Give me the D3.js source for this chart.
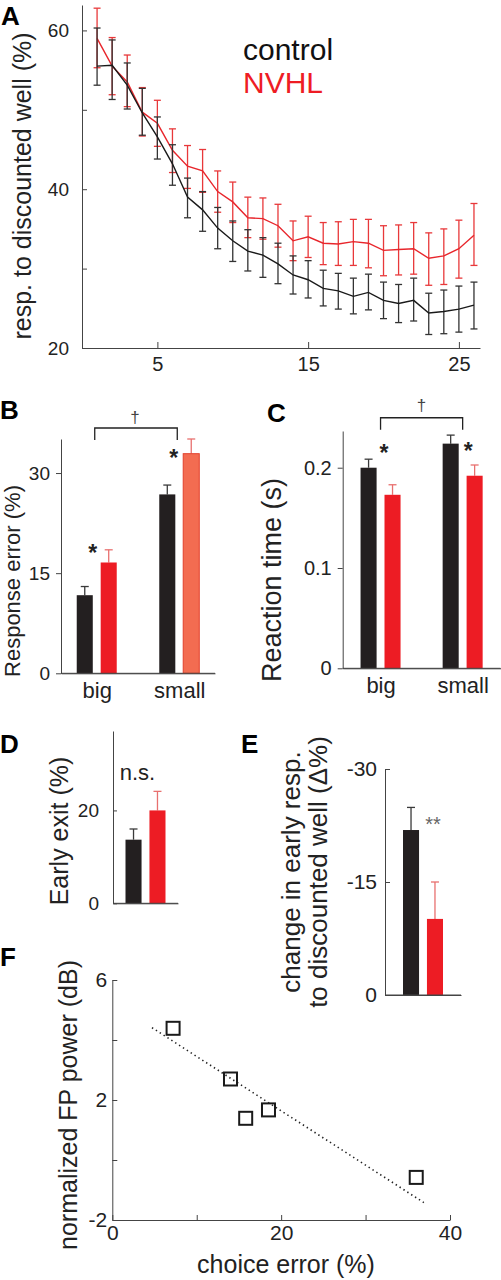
<!DOCTYPE html>
<html><head><meta charset="utf-8">
<script src="https://cdn.jsdelivr.net/npm/d3@7"></script>
<style>
body{margin:0;background:#fff}
svg text{font-family:"Liberation Sans",Arial,Helvetica,sans-serif}
</style>
</head><body>
<svg id="c" width="501" height="1280"></svg>
<script>
// ---------------- DATA ----------------
// Panel A
const trials = [1,2,3,4,5,6,7,8,9,10,11,12,13,14,15,16,17,18,19,20,21,22,23,24,25,26];
const ctrlMean = [55.5,55.6,53.1,49.6,46.6,43.2,39.0,37.4,35.1,33.5,32.2,31.7,30.6,29.2,28.6,27.5,27.2,26.5,27.0,26.0,25.6,26.0,24.4,24.6,24.9,25.4];
const ctrlHi   = [60.3,58.8,55.9,52.7,49.1,45.6,41.4,39.7,37.7,36.0,34.9,33.9,33.2,31.6,31.0,29.8,29.4,28.8,29.3,28.3,28.0,28.8,26.9,27.3,27.8,28.3];
const ctrlLo   = [53.1,51.3,50.1,46.8,43.8,40.5,36.4,34.7,32.5,30.9,29.7,28.9,28.1,26.8,26.3,25.3,24.9,24.3,24.8,23.7,23.2,23.4,21.7,21.8,22.0,22.4];
const nvhlMean = [59.0,55.5,53.5,49.7,48.3,44.9,42.9,42.3,39.7,38.4,36.4,36.3,35.4,33.5,34.0,33.2,33.1,33.4,33.2,32.3,32.4,32.5,31.3,31.6,32.5,34.2];
const nvhlHi   = [62.8,59.1,56.9,52.8,51.2,47.6,45.5,45.0,42.3,40.9,39.0,38.9,38.1,36.0,36.6,35.8,35.9,36.2,36.2,35.4,35.5,35.8,34.5,35.0,36.1,38.2];
const nvhlLo   = [55.3,51.9,50.4,46.7,45.4,42.1,40.1,39.6,37.1,35.8,33.9,33.7,32.7,31.0,31.4,30.5,30.4,30.4,30.1,29.1,29.2,29.3,27.9,28.0,28.8,30.4];
const aXTicks = [5,15,25];
const aYTicks = [20,30,40,50,60];
const aYLabels = [20,40,60];
const seriesNames = ["control","NVHL"];

// Panel B
const bGroups = ["big","small"];
const bCtrl = [11.7,26.8], bCtrlErr = [1.3,1.4];
const bNvhl = [16.6,32.9], bNvhlErr = [1.9,2.2];
const bYTicks = [0,15,30];

// Panel C
const cGroups = ["big","small"];
const cCtrl = [0.200,0.224], cCtrlErr = [0.0085,0.0085];
const cNvhl = [0.173,0.192], cNvhlErr = [0.010,0.0107];
const cYTicks = [0,0.1,0.2];

// Panel D
const dGroups = ["all"];
const dCtrl = [13.7], dCtrlErr = [2.3];
const dNvhl = [20.0], dNvhlErr = [4.1];
const dYTicks = [0,20];

// Panel E
const eGroups = ["all"];
const eCtrl = [-21.9], eCtrlErr = [-3.0];
const eNvhl = [-10.1], eNvhlErr = [-4.9];
const eYTicks = [0,-15,-30];

// Panel F
const fX = [7.2,14.0,15.8,18.5,36.0];
const fY = [4.39,2.70,1.39,1.67,-0.58];
const fFitX = [4.7,36.9];
const fFitY = [4.41,-1.42];
const fXTicks = [0,10,20,30,40];
const fXLabels = [0,20,40];
const fYTicks = [-2,0,2,4,6];
const fYLabels = [-2,2,6];

// ---------------- STYLE ----------------
const BLACK = "#231f20", RED = "#ed1c24", SALMON = "#f36c51";
const AX = "#444";
const svg = d3.select("#c");
svg.append("rect").attr("width",501).attr("height",1280).attr("fill","#fff");

function styleAxis(g, fs){
  g.select(".domain").attr("stroke",AX).attr("stroke-width",1);
  g.selectAll(".tick line").attr("stroke",AX).attr("stroke-width",1);
  g.selectAll(".tick text").attr("fill","#222").attr("font-size",fs)
    .attr("font-family","'Liberation Sans',Arial,sans-serif");
}
function rotLabel(x, y, txt, fs){
  svg.append("text").attr("transform",`translate(${x},${y}) rotate(-90)`)
    .attr("text-anchor","middle").attr("font-size",fs).attr("fill","#222").text(txt);
}
function panelLetter(x,y,t){
  svg.append("text").attr("x",x).attr("y",y).attr("font-size",26).attr("font-weight","bold")
    .attr("fill","#000").text(t);
}

// ---------------- PANEL A ----------------
{
  const x = d3.scaleLinear().domain([0,26.4]).range([82,480]);
  const y = d3.scaleLinear().domain([20,63.2]).range([348,5]);
  const gy = svg.append("g").attr("transform","translate(82,0)")
    .call(d3.axisLeft(y).tickValues(aYTicks).tickFormat(d=>aYLabels.includes(d)?d:"")
      .tickSize(-5).tickPadding(13).tickSizeOuter(0));
  styleAxis(gy,19);
  const gx = svg.append("g").attr("transform","translate(0,348)")
    .call(d3.axisBottom(x).tickValues(aXTicks).tickSize(-6).tickPadding(9).tickSizeOuter(0));
  styleAxis(gx,20);

  const series = [
    {name:"NVHL", mean:nvhlMean, hi:nvhlHi, lo:nvhlLo, line:"#e8262c", err:"#e8383a"},
    {name:"control", mean:ctrlMean, hi:ctrlHi, lo:ctrlLo, line:"#1a1a1a", err:"#333"}
  ];
  series.forEach(s=>{
    const pts = trials.map((t,i)=>({t, m:s.mean[i], h:s.hi[i], l:s.lo[i]}));
    const g = svg.append("g");
    const eb = g.selectAll("g.eb").data(pts).join("g");
    eb.append("line").attr("x1",d=>x(d.t)).attr("x2",d=>x(d.t)).attr("y1",d=>y(d.h)).attr("y2",d=>y(d.l))
      .attr("stroke",s.err).attr("stroke-width",1.3);
    eb.append("line").attr("x1",d=>x(d.t)-3.5).attr("x2",d=>x(d.t)+3.5).attr("y1",d=>y(d.h)).attr("y2",d=>y(d.h))
      .attr("stroke",s.err).attr("stroke-width",1.3);
    eb.append("line").attr("x1",d=>x(d.t)-3.5).attr("x2",d=>x(d.t)+3.5).attr("y1",d=>y(d.l)).attr("y2",d=>y(d.l))
      .attr("stroke",s.err).attr("stroke-width",1.3);
    g.append("path").datum(pts).attr("fill","none").attr("stroke",s.line).attr("stroke-width",1.4)
      .attr("d",d3.line().x(d=>x(d.t)).y(d=>y(d.m)));
  });
  svg.append("text").attr("x",243).attr("y",60).attr("font-size",30).attr("fill","#111").text(seriesNames[0]);
  svg.append("text").attr("x",243).attr("y",93).attr("font-size",30).attr("fill","#ee1c24").text(seriesNames[1]);
  rotLabel(31,186,"resp. to discounted well (%)",25);
  panelLetter(1,25,"A");
}

// ---------------- BAR PANEL HELPER ----------------
function barPanel(cfg){
  const y = d3.scaleLinear().domain(cfg.yDomain).range(cfg.yRange);
  const xg = d3.scalePoint().domain(cfg.groups).range([cfg.x0,cfg.x1]).padding(cfg.pad);
  const xs = d3.scaleBand().domain(seriesNames).range([-20,20]).paddingInner(0.33);
  const base = cfg.yRange[0];
  const gy = svg.append("g").attr("transform",`translate(${cfg.x0},0)`)
    .call(d3.axisLeft(y).tickValues(cfg.yTicks).tickFormat(cfg.fmt||(d=>d))
      .tickSize(cfg.tick).tickPadding(cfg.tickPad).tickSizeOuter(0));
  styleAxis(gy,cfg.tfs);
  const gx = svg.append("g").attr("transform",`translate(0,${base})`)
    .call(d3.axisBottom(xg).tickSize(0).tickPadding(cfg.catPad).tickSizeOuter(0));
  styleAxis(gx,cfg.cfs);
  if(!cfg.showCats) gx.selectAll(".tick text").remove();
  const rows = [];
  cfg.groups.forEach((g,i)=>{
    rows.push({g, s:"control", v:cfg.ctrl[i], e:cfg.ctrlErr[i], fill:BLACK, stroke:"none", ec:"#3a3a3a"});
    rows.push({g, s:"NVHL", v:cfg.nvhl[i], e:cfg.nvhlErr[i],
      fill:(cfg.salmon&&cfg.salmon[i])?SALMON:RED, stroke:(cfg.salmon&&cfg.salmon[i])?"#e2402c":"none", ec:"#e8706f"});
  });
  const bx = d=>xg(d.g)+xs(d.s);
  const bars = svg.append("g").selectAll("g").data(rows).join("g");
  bars.append("line").attr("x1",d=>bx(d)+xs.bandwidth()/2).attr("x2",d=>bx(d)+xs.bandwidth()/2)
    .attr("y1",d=>y(d.v)).attr("y2",d=>y(d.v+d.e)).attr("stroke",d=>d.ec).attr("stroke-width",1.3);
  bars.append("line").attr("x1",d=>bx(d)+xs.bandwidth()/2-4).attr("x2",d=>bx(d)+xs.bandwidth()/2+4)
    .attr("y1",d=>y(d.v+d.e)).attr("y2",d=>y(d.v+d.e)).attr("stroke",d=>d.ec).attr("stroke-width",1.3);
  bars.append("rect").attr("x",d=>bx(d)).attr("width",xs.bandwidth())
    .attr("y",d=>Math.min(y(d.v),base)).attr("height",d=>Math.abs(base-y(d.v)))
    .attr("fill",d=>d.fill).attr("stroke",d=>d.stroke).attr("stroke-width",1);
  svg.append("line").attr("x1",cfg.x0).attr("x2",cfg.x1).attr("y1",base).attr("y2",base).attr("stroke",AX);
  return {y, xg};
}

// ---------------- PANEL B ----------------
{
  const p = barPanel({groups:bGroups, ctrl:bCtrl, ctrlErr:bCtrlErr, nvhl:bNvhl, nvhlErr:bNvhlErr,
    salmon:[false,true], yDomain:[0,35.1], yRange:[673.3,439], x0:61, x1:215, pad:0.433,
    yTicks:bYTicks, tick:5, tickPad:6, tfs:19, cfs:22, catPad:9, showCats:true});
  const {y,xg} = p;
  svg.append("path").attr("fill","none").attr("stroke","#222").attr("stroke-width",1.3)
    .attr("d",`M${xg("big")-2},${y(34.95)}V${y(36.75)}H${xg("small")-2}V${y(34.95)}`);
  svg.append("text").attr("x",(xg("big")+xg("small"))/2-3).attr("y",y(37.5)).attr("text-anchor","middle")
    .attr("font-size",17).attr("fill","#444").text("†");
  svg.append("text").attr("x",xg("big")-4).attr("y",y(18.8)+13).attr("text-anchor","middle")
    .attr("font-size",23).attr("font-weight","bold").attr("fill","#222").text("*");
  svg.append("text").attr("x",xg("small")-5.5).attr("y",y(33.0)+13).attr("text-anchor","middle")
    .attr("font-size",23).attr("font-weight","bold").attr("fill","#222").text("*");
  rotLabel(20,581,"Response error (%)",22);
  panelLetter(0,419,"B");
}

// ---------------- PANEL C ----------------
{
  const p = barPanel({groups:cGroups, ctrl:cCtrl, ctrlErr:cCtrlErr, nvhl:cNvhl, nvhlErr:cNvhlErr,
    yDomain:[0,0.2366], yRange:[668.3,431], x0:342.7, x1:500.5, pad:0.461,
    yTicks:cYTicks, fmt:d=>d===0?"0":d3.format(".1f")(d), tick:5, tickPad:6, tfs:20, cfs:22, catPad:9, showCats:true});
  const {y,xg} = p;
  svg.append("path").attr("fill","none").attr("stroke","#222").attr("stroke-width",1.3)
    .attr("d",`M${xg("big")},${y(0.2378)}V${y(0.2498)}H${xg("small")}V${y(0.2378)}`);
  svg.append("text").attr("x",(xg("big")+xg("small"))/2).attr("y",y(0.257)).attr("text-anchor","middle")
    .attr("font-size",17).attr("fill","#444").text("†");
  svg.append("text").attr("x",xg("big")+3.5).attr("y",y(0.220)+13).attr("text-anchor","middle")
    .attr("font-size",23).attr("font-weight","bold").attr("fill","#222").text("*");
  svg.append("text").attr("x",xg("small")+5.5).attr("y",y(0.222)+13).attr("text-anchor","middle")
    .attr("font-size",23).attr("font-weight","bold").attr("fill","#222").text("*");
  rotLabel(281,580,"Reaction time (s)",27);
  panelLetter(267,422,"C");
}

// ---------------- PANEL D ----------------
{
  const p = barPanel({groups:dGroups, ctrl:dCtrl, ctrlErr:dCtrlErr, nvhl:dNvhl, nvhlErr:dNvhlErr,
    yDomain:[0,37.1], yRange:[903.3,731], x0:113, x1:178, pad:0.5,
    yTicks:dYTicks, tick:-4, tickPad:14, tfs:19, cfs:20, catPad:9, showCats:false});
  const {y,xg} = p;
  svg.append("text").attr("x",xg("all")-8).attr("y",y(26.5)).attr("text-anchor","middle")
    .attr("font-size",22).attr("fill","#222").text("n.s.");
  rotLabel(68,831,"Early exit (%)",25);
  panelLetter(0,753,"D");
}

// ---------------- PANEL E ----------------
{
  const p = barPanel({groups:eGroups, ctrl:eCtrl, ctrlErr:eCtrlErr, nvhl:eNvhl, nvhlErr:eNvhlErr,
    yDomain:[0,-30], yRange:[995,769], x0:385, x1:461, pad:0.5,
    yTicks:eYTicks, tick:-5, tickPad:8, tfs:21, cfs:20, catPad:9, showCats:false});
  const {y,xg} = p;
  svg.append("text").attr("x",xg("all")+10).attr("y",y(-23.2)+11).attr("text-anchor","middle")
    .attr("font-size",20).attr("fill","#666").text("**");
  svg.append("text").attr("transform","translate(300,872) rotate(-90)").attr("text-anchor","middle")
    .attr("font-size",26).attr("fill","#222").text("change in early resp.");
  svg.append("text").attr("transform","translate(327,872) rotate(-90)").attr("text-anchor","middle")
    .attr("font-size",26).attr("fill","#222").text("to discounted well (Δ%)");
  panelLetter(241,753,"E");
}

// ---------------- PANEL F ----------------
{
  const x = d3.scaleLinear().domain([0,40]).range([112.3,450]);
  const y = d3.scaleLinear().domain([-2,6]).range([1220,980]);
  const gy = svg.append("g").attr("transform","translate(112.3,0)")
    .call(d3.axisLeft(y).tickValues(fYTicks).tickFormat(d=>fYLabels.includes(d)?d:"")
      .tickSize(-5).tickPadding(5).tickSizeOuter(0));
  styleAxis(gy,21);
  const gx = svg.append("g").attr("transform","translate(0,1220)")
    .call(d3.axisBottom(x).tickValues(fXTicks).tickFormat(d=>fXLabels.includes(d)?d:"")
      .tickSize(-5).tickPadding(5).tickSizeOuter(0));
  styleAxis(gx,21);
  const fit = fFitX.map((v,i)=>[v,fFitY[i]]);
  svg.append("path").datum(fit).attr("fill","none").attr("stroke","#222").attr("stroke-width",1.6)
    .attr("stroke-dasharray","1.4,3.2").attr("d",d3.line().x(d=>x(d[0])).y(d=>y(d[1])));
  const pts = fX.map((v,i)=>({x:v,y:fY[i]}));
  svg.append("g").selectAll("rect").data(pts).join("rect")
    .attr("x",d=>x(d.x)-6.5).attr("y",d=>y(d.y)-6.5).attr("width",13).attr("height",13)
    .attr("fill","none").attr("stroke","#1a1a1a").attr("stroke-width",2);
  rotLabel(77,1105,"normalized FP power (dB)",25);
  svg.append("text").attr("x",286).attr("y",1273).attr("text-anchor","middle")
    .attr("font-size",25).attr("fill","#222").text("choice error (%)");
  panelLetter(0,966,"F");
}
</script>
</body></html>
